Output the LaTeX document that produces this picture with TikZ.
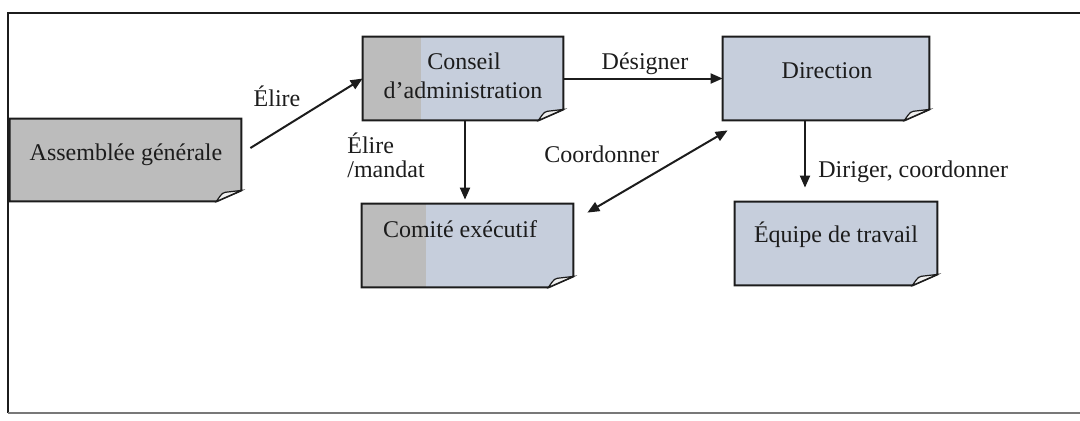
\documentclass[tikz,border=0pt]{standalone}
\usepackage{fontspec}
\setmainfont{Liberation Serif}
\usetikzlibrary{arrows.meta}

\definecolor{noteblue}{RGB}{198,206,220}
\definecolor{notegray}{RGB}{188,188,188}
\definecolor{inkline}{RGB}{28,28,28}
\definecolor{framegray}{RGB}{120,120,120}

\tikzset{
  notebox/.style={rectangle, inner sep=0pt, draw=none},
  lbl/.style={font=\fontsize{12pt}{14pt}\selectfont, inner sep=0pt, anchor=base, text=inkline},
  lblw/.style={lbl, anchor=base west},
  link/.style={draw=inkline, line width=1pt, -{Triangle[length=6pt,width=5pt]}},
  linkboth/.style={draw=inkline, line width=1pt, {Triangle[length=6pt,width=5pt]}-{Triangle[length=6pt,width=5pt]}},
}

% Note sheet with a dog-eared lower right corner; #2 = width of the grey strip on the left
\newcommand\drawnote[2]{%
  \begin{scope}
    \clip (#1.north west) -- (#1.north east) -- ([yshift=5.5pt]#1.south east)
      -- ([xshift=-12.5pt]#1.south east) -- (#1.south west) -- cycle;
    \fill[noteblue] (#1.north west) rectangle (#1.south east);
    \fill[notegray] (#1.north west) rectangle ([xshift=#2]#1.south west);
  \end{scope}
  \draw[inkline, line width=1pt] (#1.north west) -- (#1.north east) -- ([yshift=5.5pt]#1.south east)
    -- ([xshift=-12.5pt]#1.south east) -- (#1.south west) -- cycle;
  \filldraw[fill=white!88!gray, draw=inkline, line width=0.6pt]
    ([xshift=-12.5pt]#1.south east) .. controls ([xshift=-9.5pt,yshift=4.5pt]#1.south east)
    .. ([xshift=-6pt,yshift=4.8pt]#1.south east) -- ([yshift=5.5pt]#1.south east) -- cycle;
}

\begin{document}
\begin{tikzpicture}[x=0.5pt, y=-0.5pt]
\useasboundingbox (0,0) rectangle (1080,420);

% frame
\draw[inkline, line width=1pt] (1080,13) -- (8,13) -- (8,413);
\draw[framegray, line width=0.7pt] (8,413) -- (1080,413);

% sheets
\node[notebox, minimum width=115.5pt, minimum height=41pt]   (ag) at (125.5,160) {};
\node[notebox, minimum width=100pt,   minimum height=41.5pt] (ca) at (463,78.5) {};
\node[notebox, minimum width=103pt,   minimum height=41.5pt] (di) at (826,78.5) {};
\node[notebox, minimum width=105.5pt, minimum height=41.5pt] (ce) at (467.5,245.5) {};
\node[notebox, minimum width=101pt,   minimum height=41.5pt] (et) at (836,243.5) {};

\drawnote{ag}{120pt}
\drawnote{ca}{29pt}
\drawnote{di}{0pt}
\drawnote{ce}{32pt}
\drawnote{et}{0pt}

% sheet texts
\node[lbl] (agt) at (126,160) {Assemblée générale};
\node[lbl] (cat1) at (464,69) {Conseil};
\node[lbl] (cat2) at (463,98) {d'administration};
\node[lbl] (dit) at (827,78) {Direction};
\node[lbl] (cet) at (460,237) {Comité exécutif};
\node[lbl] (ett) at (836,242) {Équipe de travail};

% connectors
\draw[link] ([xshift=4.5pt,yshift=6pt]ag.east) -- (ca.west);
\draw[link] (ca.east) -- (di.west);
\draw[link, shorten >=2pt] ([xshift=1pt]ca.south) -- ([xshift=1pt]ca.south |- ce.north);
\draw[link, shorten >=7pt] ([xshift=-10.5pt]di.south) -- ([xshift=-10.5pt]di.south |- et.north);
\draw[linkboth] ([xshift=7pt,yshift=-4.5pt]ce.north east) -- ([xshift=2.5pt,yshift=-5pt]di.south west);

% connector labels
\node[lbl] (l1) at (277,106) {Élire};
\node[lbl] (l2) at (645,69) {Désigner};
\node[lblw] (l3a) at (347,153) {Élire};
\node[lblw] (l3b) at (347,177) {/mandat};
\node[lblw] (l4) at (544,162) {Coordonner};
\node[lblw] (l5) at (818,177) {Diriger, coordonner};
\end{tikzpicture}
\end{document}
